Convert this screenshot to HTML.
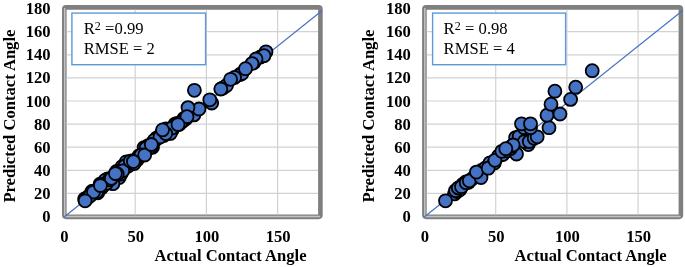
<!DOCTYPE html>
<html><head><meta charset="utf-8"><title>Predicted vs Actual Contact Angle</title>
<style>
html,body{margin:0;padding:0;background:#fff}
svg{display:block}
text{font-family:"Liberation Serif","Times New Roman",serif;fill:#000}
.b{font-weight:bold;font-size:16.6px}
.bt{font-weight:bold;font-size:16.6px}
.t{font-size:16.6px}
.g{stroke:#d2d2d2;stroke-width:1.2}
.p{fill:#4472c4;stroke:#000;stroke-width:1.8}
</style></head><body>
<svg width="685" height="267" viewBox="0 0 685 267">
<rect width="685" height="267" fill="#fff"/>
<rect x="64.3" y="7.4" width="256.1" height="209.5" rx="1.8" fill="none" stroke="#7f7f7f" stroke-width="4.6"/>
<path d="M64.7 8V216.4H320.1" fill="none" stroke="#c2c2c2" stroke-width="1.5"/>
<line x1="66.6" x2="318.1" y1="193.4" y2="193.4" class="g"/>
<line x1="66.6" x2="318.1" y1="170.3" y2="170.3" class="g"/>
<line x1="66.6" x2="318.1" y1="147.2" y2="147.2" class="g"/>
<line x1="66.6" x2="318.1" y1="124.1" y2="124.1" class="g"/>
<line x1="66.6" x2="318.1" y1="101.0" y2="101.0" class="g"/>
<line x1="66.6" x2="318.1" y1="77.9" y2="77.9" class="g"/>
<line x1="66.6" x2="318.1" y1="54.8" y2="54.8" class="g"/>
<line x1="66.6" x2="318.1" y1="31.7" y2="31.7" class="g"/>
<line y1="9.8" y2="214.4" x1="135.2" x2="135.2" class="g"/>
<line y1="9.8" y2="214.4" x1="206.4" x2="206.4" class="g"/>
<line y1="9.8" y2="214.4" x1="277.6" x2="277.6" class="g"/>
<line x1="63.5" y1="217.5" x2="322.2" y2="10.5" stroke="#4472c4" stroke-width="1.2"/>
<circle cx="122.0" cy="166.7" r="6.5" class="p"/>
<circle cx="185.9" cy="118.8" r="6.5" class="p"/>
<circle cx="173.0" cy="128.2" r="6.5" class="p"/>
<circle cx="175.1" cy="124.1" r="6.5" class="p"/>
<circle cx="137.5" cy="159.4" r="6.5" class="p"/>
<circle cx="126.3" cy="161.8" r="6.5" class="p"/>
<circle cx="107.6" cy="178.8" r="6.5" class="p"/>
<circle cx="114.7" cy="175.5" r="6.5" class="p"/>
<circle cx="152.5" cy="147.3" r="6.5" class="p"/>
<circle cx="148.3" cy="145.6" r="6.5" class="p"/>
<circle cx="159.9" cy="136.1" r="6.5" class="p"/>
<circle cx="104.9" cy="180.4" r="6.5" class="p"/>
<circle cx="172.0" cy="130.1" r="6.5" class="p"/>
<circle cx="155.4" cy="140.1" r="6.5" class="p"/>
<circle cx="156.6" cy="138.1" r="6.5" class="p"/>
<circle cx="101.4" cy="188.0" r="6.5" class="p"/>
<circle cx="151.4" cy="146.2" r="6.5" class="p"/>
<circle cx="100.0" cy="184.2" r="6.5" class="p"/>
<circle cx="119.2" cy="177.5" r="6.5" class="p"/>
<circle cx="97.7" cy="192.8" r="6.5" class="p"/>
<circle cx="158.3" cy="137.4" r="6.5" class="p"/>
<circle cx="132.1" cy="160.9" r="6.5" class="p"/>
<circle cx="95.5" cy="192.6" r="6.5" class="p"/>
<circle cx="128.2" cy="166.1" r="6.5" class="p"/>
<circle cx="179.4" cy="124.3" r="6.5" class="p"/>
<circle cx="103.4" cy="185.5" r="6.5" class="p"/>
<circle cx="92.8" cy="191.3" r="6.5" class="p"/>
<circle cx="162.0" cy="132.7" r="6.5" class="p"/>
<circle cx="177.3" cy="123.4" r="6.5" class="p"/>
<circle cx="135.6" cy="160.3" r="6.5" class="p"/>
<circle cx="88.6" cy="196.5" r="6.5" class="p"/>
<circle cx="168.0" cy="133.4" r="6.5" class="p"/>
<circle cx="84.6" cy="198.9" r="6.5" class="p"/>
<circle cx="112.9" cy="183.7" r="6.5" class="p"/>
<circle cx="149.7" cy="147.6" r="6.5" class="p"/>
<circle cx="106.6" cy="183.3" r="6.5" class="p"/>
<circle cx="134.2" cy="163.6" r="6.5" class="p"/>
<circle cx="109.3" cy="179.8" r="6.5" class="p"/>
<circle cx="138.9" cy="156.0" r="6.5" class="p"/>
<circle cx="116.5" cy="171.5" r="6.5" class="p"/>
<circle cx="143.2" cy="154.0" r="6.5" class="p"/>
<circle cx="120.9" cy="174.0" r="6.5" class="p"/>
<circle cx="154.1" cy="140.4" r="6.5" class="p"/>
<circle cx="145.0" cy="148.6" r="6.5" class="p"/>
<circle cx="144.1" cy="147.6" r="6.5" class="p"/>
<circle cx="87.3" cy="198.0" r="6.5" class="p"/>
<circle cx="183.9" cy="118.4" r="6.5" class="p"/>
<circle cx="166.0" cy="128.8" r="6.5" class="p"/>
<circle cx="124.9" cy="166.0" r="6.5" class="p"/>
<circle cx="111.3" cy="178.4" r="6.5" class="p"/>
<circle cx="85.7" cy="198.9" r="6.5" class="p"/>
<circle cx="96.6" cy="192.0" r="6.5" class="p"/>
<circle cx="122.8" cy="170.8" r="6.5" class="p"/>
<circle cx="182.9" cy="121.0" r="6.5" class="p"/>
<circle cx="163.8" cy="135.4" r="6.5" class="p"/>
<circle cx="117.3" cy="174.0" r="6.5" class="p"/>
<circle cx="91.9" cy="191.5" r="6.5" class="p"/>
<circle cx="181.0" cy="122.2" r="6.5" class="p"/>
<circle cx="146.0" cy="148.1" r="6.5" class="p"/>
<circle cx="170.3" cy="133.4" r="6.5" class="p"/>
<circle cx="130.3" cy="161.1" r="6.5" class="p"/>
<circle cx="90.2" cy="195.8" r="6.5" class="p"/>
<circle cx="93.5" cy="192.0" r="6.5" class="p"/>
<circle cx="141.1" cy="155.0" r="6.5" class="p"/>
<circle cx="223.0" cy="88.0" r="6.5" class="p"/>
<circle cx="226.5" cy="85.5" r="6.5" class="p"/>
<circle cx="240.0" cy="74.5" r="6.5" class="p"/>
<circle cx="242.0" cy="73.5" r="6.5" class="p"/>
<circle cx="260.5" cy="57.0" r="6.5" class="p"/>
<circle cx="254.0" cy="62.5" r="6.5" class="p"/>
<circle cx="172.0" cy="128.0" r="6.5" class="p"/>
<circle cx="160.0" cy="137.0" r="6.5" class="p"/>
<circle cx="193.9" cy="114.9" r="6.5" class="p"/>
<circle cx="266.0" cy="51.8" r="6.5" class="p"/>
<circle cx="264.0" cy="55.7" r="6.5" class="p"/>
<circle cx="256.0" cy="59.0" r="6.5" class="p"/>
<circle cx="252.0" cy="63.6" r="6.5" class="p"/>
<circle cx="245.5" cy="68.7" r="6.5" class="p"/>
<circle cx="234.5" cy="77.4" r="6.5" class="p"/>
<circle cx="230.6" cy="79.3" r="6.5" class="p"/>
<circle cx="220.8" cy="89.0" r="6.5" class="p"/>
<circle cx="211.7" cy="103.0" r="6.5" class="p"/>
<circle cx="209.8" cy="99.8" r="6.5" class="p"/>
<circle cx="199.0" cy="109.0" r="6.5" class="p"/>
<circle cx="188.0" cy="107.6" r="6.5" class="p"/>
<circle cx="187.0" cy="116.7" r="6.5" class="p"/>
<circle cx="178.0" cy="124.5" r="6.5" class="p"/>
<circle cx="165.7" cy="133.6" r="6.5" class="p"/>
<circle cx="194.4" cy="90.3" r="6.5" class="p"/>
<circle cx="85.1" cy="200.8" r="6.5" class="p"/>
<circle cx="100.4" cy="185.5" r="6.5" class="p"/>
<circle cx="115.4" cy="173.5" r="6.5" class="p"/>
<circle cx="133.4" cy="161.6" r="6.5" class="p"/>
<circle cx="144.7" cy="155.0" r="6.5" class="p"/>
<circle cx="151.3" cy="144.5" r="6.5" class="p"/>
<circle cx="162.5" cy="129.9" r="6.5" class="p"/>
<rect x="71.9" y="13.1" width="133.7" height="51.6" fill="#fff" stroke="#5b9bd5" stroke-width="1.4"/>
<text x="83.7" y="34.4" class="t">R<tspan dy="-4.5" font-size="12">2</tspan><tspan dy="4.5"> =</tspan><tspan dx="0.3">0.99</tspan></text>
<text x="83.7" y="53.7" class="t">RMSE = 2</text>
<text x="50.6" y="222.0" class="b" text-anchor="end">0</text>
<text x="50.6" y="198.9" class="b" text-anchor="end">20</text>
<text x="50.6" y="175.8" class="b" text-anchor="end">40</text>
<text x="50.6" y="152.7" class="b" text-anchor="end">60</text>
<text x="50.6" y="129.6" class="b" text-anchor="end">80</text>
<text x="50.6" y="106.5" class="b" text-anchor="end">100</text>
<text x="50.6" y="83.4" class="b" text-anchor="end">120</text>
<text x="50.6" y="60.3" class="b" text-anchor="end">140</text>
<text x="50.6" y="37.2" class="b" text-anchor="end">160</text>
<text x="50.6" y="14.1" class="b" text-anchor="end">180</text>
<text x="64.5" y="241.5" class="b" text-anchor="middle">0</text>
<text x="135.7" y="241.5" class="b" text-anchor="middle">50</text>
<text x="206.9" y="241.5" class="b" text-anchor="middle">100</text>
<text x="278.1" y="241.5" class="b" text-anchor="middle">150</text>
<text x="154.5" y="261.4" class="bt">Actual Contact Angle</text>
<text transform="translate(14.5,116.1) rotate(-90)" class="bt" text-anchor="middle">Predicted Contact Angle</text>
<rect x="424.4" y="7.4" width="256.5" height="209.5" rx="1.8" fill="none" stroke="#7f7f7f" stroke-width="4.6"/>
<path d="M424.8 8V216.4H680.6" fill="none" stroke="#c2c2c2" stroke-width="1.5"/>
<line x1="426.7" x2="678.6" y1="193.4" y2="193.4" class="g"/>
<line x1="426.7" x2="678.6" y1="170.3" y2="170.3" class="g"/>
<line x1="426.7" x2="678.6" y1="147.2" y2="147.2" class="g"/>
<line x1="426.7" x2="678.6" y1="124.1" y2="124.1" class="g"/>
<line x1="426.7" x2="678.6" y1="101.0" y2="101.0" class="g"/>
<line x1="426.7" x2="678.6" y1="77.9" y2="77.9" class="g"/>
<line x1="426.7" x2="678.6" y1="54.8" y2="54.8" class="g"/>
<line x1="426.7" x2="678.6" y1="31.7" y2="31.7" class="g"/>
<line y1="9.8" y2="214.4" x1="495.7" x2="495.7" class="g"/>
<line y1="9.8" y2="214.4" x1="566.9" x2="566.9" class="g"/>
<line y1="9.8" y2="214.4" x1="638.1" x2="638.1" class="g"/>
<line x1="423.6" y1="217.5" x2="682.7" y2="10.5" stroke="#4472c4" stroke-width="1.2"/>
<circle cx="454.4" cy="193.9" r="6.5" class="p"/>
<circle cx="457.2" cy="191.5" r="6.5" class="p"/>
<circle cx="460.1" cy="189.5" r="6.5" class="p"/>
<circle cx="462.9" cy="184.3" r="6.5" class="p"/>
<circle cx="465.8" cy="181.9" r="6.5" class="p"/>
<circle cx="468.6" cy="182.3" r="6.5" class="p"/>
<circle cx="471.5" cy="179.3" r="6.5" class="p"/>
<circle cx="474.3" cy="177.1" r="6.5" class="p"/>
<circle cx="477.2" cy="174.2" r="6.5" class="p"/>
<circle cx="481.5" cy="170.5" r="6.5" class="p"/>
<circle cx="485.7" cy="167.8" r="6.5" class="p"/>
<circle cx="490.0" cy="162.8" r="6.5" class="p"/>
<circle cx="494.3" cy="163.1" r="6.5" class="p"/>
<circle cx="498.5" cy="156.0" r="6.5" class="p"/>
<circle cx="502.8" cy="154.5" r="6.5" class="p"/>
<circle cx="507.1" cy="151.0" r="6.5" class="p"/>
<circle cx="445.5" cy="200.8" r="6.5" class="p"/>
<circle cx="455.6" cy="190.6" r="6.5" class="p"/>
<circle cx="458.3" cy="187.9" r="6.5" class="p"/>
<circle cx="461.5" cy="186.7" r="6.5" class="p"/>
<circle cx="466.2" cy="182.7" r="6.5" class="p"/>
<circle cx="469.3" cy="180.8" r="6.5" class="p"/>
<circle cx="481.0" cy="177.6" r="6.5" class="p"/>
<circle cx="476.4" cy="172.1" r="6.5" class="p"/>
<circle cx="488.2" cy="168.2" r="6.5" class="p"/>
<circle cx="494.9" cy="160.3" r="6.5" class="p"/>
<circle cx="515.6" cy="137.6" r="6.5" class="p"/>
<circle cx="519.2" cy="136.5" r="6.5" class="p"/>
<circle cx="516.5" cy="154.0" r="6.5" class="p"/>
<circle cx="501.8" cy="151.3" r="6.5" class="p"/>
<circle cx="510.6" cy="148.5" r="6.5" class="p"/>
<circle cx="511.6" cy="146.2" r="6.5" class="p"/>
<circle cx="528.3" cy="144.6" r="6.5" class="p"/>
<circle cx="524.4" cy="141.5" r="6.5" class="p"/>
<circle cx="529.3" cy="141.5" r="6.5" class="p"/>
<circle cx="534.2" cy="138.3" r="6.5" class="p"/>
<circle cx="537.2" cy="136.8" r="6.5" class="p"/>
<circle cx="549.0" cy="127.7" r="6.5" class="p"/>
<circle cx="524.2" cy="127.7" r="6.5" class="p"/>
<circle cx="530.5" cy="127.7" r="6.5" class="p"/>
<circle cx="521.5" cy="123.8" r="6.5" class="p"/>
<circle cx="530.5" cy="123.8" r="6.5" class="p"/>
<circle cx="547.0" cy="115.2" r="6.5" class="p"/>
<circle cx="560.0" cy="114.0" r="6.5" class="p"/>
<circle cx="551.0" cy="104.2" r="6.5" class="p"/>
<circle cx="570.6" cy="99.4" r="6.5" class="p"/>
<circle cx="554.9" cy="91.2" r="6.5" class="p"/>
<circle cx="575.7" cy="87.2" r="6.5" class="p"/>
<circle cx="592.2" cy="70.7" r="6.5" class="p"/>
<circle cx="513.1" cy="145.0" r="6.5" class="p"/>
<circle cx="505.8" cy="148.7" r="6.5" class="p"/>
<rect x="432.6" y="13.1" width="133.0" height="51.6" fill="#fff" stroke="#5b9bd5" stroke-width="1.4"/>
<text x="443.6" y="34.4" class="t">R<tspan dy="-4.5" font-size="12">2</tspan><tspan dy="4.5" dx="0.3"> = 0.98</tspan></text>
<text x="443.6" y="53.7" class="t">RMSE = 4</text>
<text x="410.8" y="222.0" class="b" text-anchor="end">0</text>
<text x="410.8" y="198.9" class="b" text-anchor="end">20</text>
<text x="410.8" y="175.8" class="b" text-anchor="end">40</text>
<text x="410.8" y="152.7" class="b" text-anchor="end">60</text>
<text x="410.8" y="129.6" class="b" text-anchor="end">80</text>
<text x="410.8" y="106.5" class="b" text-anchor="end">100</text>
<text x="410.8" y="83.4" class="b" text-anchor="end">120</text>
<text x="410.8" y="60.3" class="b" text-anchor="end">140</text>
<text x="410.8" y="37.2" class="b" text-anchor="end">160</text>
<text x="410.8" y="14.1" class="b" text-anchor="end">180</text>
<text x="425.0" y="241.5" class="b" text-anchor="middle">0</text>
<text x="496.2" y="241.5" class="b" text-anchor="middle">50</text>
<text x="567.4" y="241.5" class="b" text-anchor="middle">100</text>
<text x="638.6" y="241.5" class="b" text-anchor="middle">150</text>
<text x="514.6" y="261.4" class="bt">Actual Contact Angle</text>
<text transform="translate(374.4,116.1) rotate(-90)" class="bt" text-anchor="middle">Predicted Contact Angle</text>
</svg>
</body></html>
